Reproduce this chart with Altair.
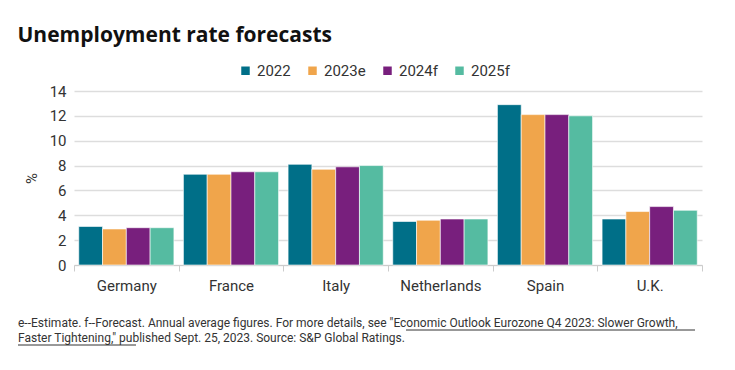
import altair as alt
import pandas as pd

countries = ["Germany", "France", "Italy", "Netherlands", "Spain", "U.K."]
series = ["2022", "2023e", "2024f", "2025f"]
v2022 = [3.1, 7.3, 8.1, 3.5, 12.9, 3.7]
v2023 = [2.9, 7.3, 7.7, 3.6, 12.1, 4.3]
v2024 = [3.0, 7.5, 7.9, 3.7, 12.1, 4.7]
v2025 = [3.0, 7.5, 8.0, 3.7, 12.0, 4.4]
colors = ["#006F88", "#F0A54B", "#781F7D", "#55BBA1"]
y_ticks = [0, 2, 4, 6, 8, 10, 12, 14]
title_text = "Unemployment rate forecasts"
note_lines = [
    'e--Estimate. f--Forecast. Annual average figures. For more details, see "Economic Outlook Eurozone Q4 2023: Slower Growth,',
    'Faster Tightening," published Sept. 25, 2023. Source: S&P Global Ratings.',
]

rows = []
for s, vals in zip(series, [v2022, v2023, v2024, v2025]):
    for c, v in zip(countries, vals):
        rows.append({"country": c, "series": s, "value": v})
df = pd.DataFrame(rows)

FONT = "Roboto"
NOTE_FONT = "Roboto"

bars = alt.Chart(df).mark_bar(stroke="white", strokeWidth=0.6).encode(
    x=alt.X("country:N", sort=countries,
            scale=alt.Scale(paddingInner=0, paddingOuter=0),
            axis=alt.Axis(title=None, labelAngle=0, tickBand="extent",
                          labelFontSize=15, labelColor="#333333", labelFont=FONT,
                          tickColor="#cccccc", tickSize=6, domainColor="#cccccc",
                          labelPadding=7)),
    xOffset=alt.XOffset("series:N", sort=series,
                        scale=alt.Scale(paddingOuter=0.2, paddingInner=0)),
    y=alt.Y("value:Q", scale=alt.Scale(domain=[0, 14]),
            axis=alt.Axis(values=y_ticks, title="%", domain=False, ticks=False,
                          gridColor="#dddddd", gridWidth=1.5,
                          labelFontSize=15, labelColor="#333333", labelFont=FONT,
                          labelPadding=8, titleFont=FONT, titleFontSize=15,
                          titleFontWeight="normal", titleColor="#333333",
                          titlePadding=10)),
    color=alt.Color("series:N", sort=series,
                    scale=alt.Scale(domain=series, range=colors),
                    legend=alt.Legend(title=None, orient="none", legendX=164, legendY=-28,
                                      direction="horizontal", symbolType="square",
                                      symbolSize=72, symbolStrokeWidth=0,
                                      labelFontSize=15, labelFont=FONT,
                                      labelColor="#333333", columnPadding=14,
                                      labelOffset=4)),
)

note_df = pd.DataFrame({"line": note_lines, "row": [0, 1]})
note1 = alt.Chart(note_df[note_df.row == 0]).mark_text(
    align="left", baseline="middle", font=NOTE_FONT, fontSize=12,
    color="#333333").encode(text="line:N", x=alt.value(-56), y=alt.value(231.5))
note2 = alt.Chart(note_df[note_df.row == 1]).mark_text(
    align="left", baseline="middle", font=NOTE_FONT, fontSize=12,
    color="#333333").encode(text="line:N", x=alt.value(-56), y=alt.value(246.5))

# underlines for the linked report title
ul1 = alt.Chart(note_df[note_df.row == 0]).mark_rule(color="#333333", strokeWidth=1).encode(
    x=alt.value(332), x2=alt.value(621), y=alt.value(239))
ul2 = alt.Chart(note_df[note_df.row == 1]).mark_rule(color="#333333", strokeWidth=1).encode(
    x=alt.value(-56), x2=alt.value(62), y=alt.value(254))

chart = alt.layer(bars, note1, note2, ul1, ul2).properties(
    width=628, height=174,
    title=alt.TitleParams(title_text, anchor="start", frame="bounds",
                          font="Open Sans", fontSize=21, fontWeight="bold",
                          color="#111111", offset=17),
    padding={"left": 9, "top": 17, "right": 5, "bottom": 5},
).configure_view(stroke=None)

chart.save("out.html", embed_options={"renderer": "svg", "actions": False})
